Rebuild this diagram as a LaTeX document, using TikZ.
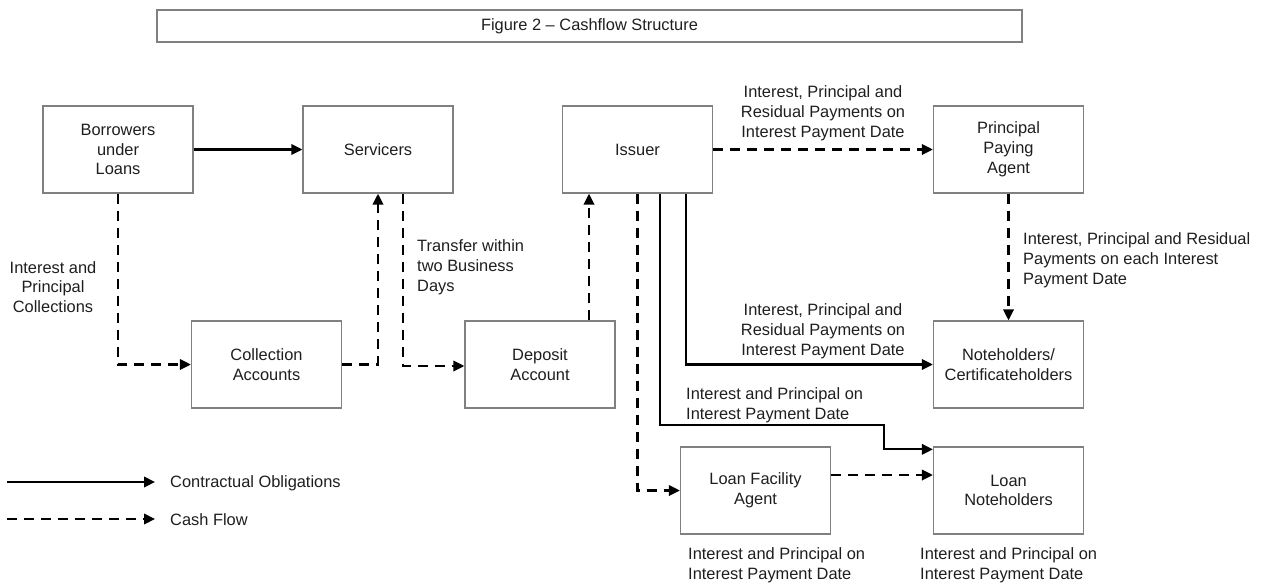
\documentclass[tikz,border=0pt]{standalone}
\usepackage{fontspec}
\setmainfont{Liberation Sans}
\usetikzlibrary{arrows.meta,calc}
\definecolor{txt}{HTML}{1E1E1E}
\definecolor{bord}{HTML}{808080}
\tikzset{
  box/.style={draw=bord,line width=1.3pt,minimum width=150pt,minimum height=87pt,align=center,inner sep=0pt,text=txt,font=\fontsize{16.4}{19.8}\selectfont},
  lbl/.style={inner sep=0pt,text=txt,font=\fontsize{16.4}{19.8}\selectfont},
  obl/.style={line width=2.2pt,-{Triangle[length=11pt,width=10.5pt]}},
  cash/.style={line width=2.2pt,dash pattern=on 10pt off 7pt,-{Triangle[length=11pt,width=10.5pt]}},
}
\begin{document}
\begin{tikzpicture}[x=1pt,y=-1pt]
\useasboundingbox (0,0) rectangle (1264,587);
% title
\node[draw=bord,line width=1.3pt,minimum width=865pt,minimum height=32pt,inner sep=0pt,text=txt,font=\fontsize{16.4}{19.8}\selectfont] (title) at (589.5,26) {Figure 2 -- Cashflow Structure};
% boxes
\node[box] (borrow) at (118,149.5) {Borrowers\\under\\Loans};
\node[box] (serv) at (378,149.5) {Servicers};
\node[box] (issuer) at (637.5,149.5) {Issuer};
\node[box] (ppa) at (1008.5,149.5) {Principal\\Paying\\Agent};
\node[box] (coll) at (266.5,364.5) {Collection\\Accounts};
\node[box] (dep) at (540,364.5) {Deposit\\Account};
\node[box] (notes) at (1008.5,364.5) {Noteholders/\\Certificateholders};
\node[box] (lfa) at (755.5,490.5) {Loan Facility\\Agent};
\node[box] (loan) at (1008.5,490.5) {Loan\\Noteholders};
% connectors
\draw[obl] (borrow) -- (serv);
\draw[cash] (borrow.south) |- (coll.west);
\draw[cash] (coll.east) -| (serv.south);
\draw[cash] ([xshift=25pt]serv.south) |- ([yshift=-1.5pt]dep.west);
\draw[cash] ([xshift=49pt]dep.north) -- ([xshift=-48.5pt]issuer.south);
\draw[cash] (issuer.east) -- (ppa.west);
\draw[cash] (ppa.south) -- (notes.north);
\draw[cash] (issuer.south) |- (lfa.west);
\draw[obl] ([xshift=48.5pt]issuer.south) |- (notes.west);
\coordinate (k1) at (884,425);
\draw[obl] ([xshift=22.5pt]issuer.south) |- (k1) |- ([yshift=-3pt]loan.north west);
\draw[cash] ([yshift=15.5pt]lfa.east) -- ([yshift=15.5pt]loan.west);
% labels
\node[lbl,align=center] (l1) at (53,287) {Interest and\\Principal\\Collections};
\node[lbl,align=left,anchor=west] (l2) at (417,267) {Transfer within\\two Business\\Days};
\node[lbl,align=center] (l3) at (823,113) {Interest, Principal and\\Residual Payments on\\Interest Payment Date};
\node[lbl,align=center] (l4) at (823,331) {Interest, Principal and\\Residual Payments on\\Interest Payment Date};
\node[lbl,align=left,anchor=west] (l5) at (1023,260) {Interest, Principal and Residual\\Payments on each Interest\\Payment Date};
\node[lbl,align=left,anchor=west] (l6) at (686,405) {Interest and Principal on\\Interest Payment Date};
\node[lbl,align=left,anchor=west] (l7) at (688,565) {Interest and Principal on\\Interest Payment Date};
\node[lbl,align=left,anchor=west] (l8) at (920,565) {Interest and Principal on\\Interest Payment Date};
% legend
\coordinate (a1) at (7,482);
\coordinate (a2) at (155,482);
\coordinate (b1) at (7,519);
\coordinate (b2) at (155,519);
\draw[obl] (a1) -- (a2);
\draw[cash] (b1) -- (b2);
\node[lbl,anchor=west] (lg1) at (170,483) {Contractual Obligations};
\node[lbl,anchor=west] (lg2) at (170,520) {Cash Flow};
\end{tikzpicture}
\end{document}
